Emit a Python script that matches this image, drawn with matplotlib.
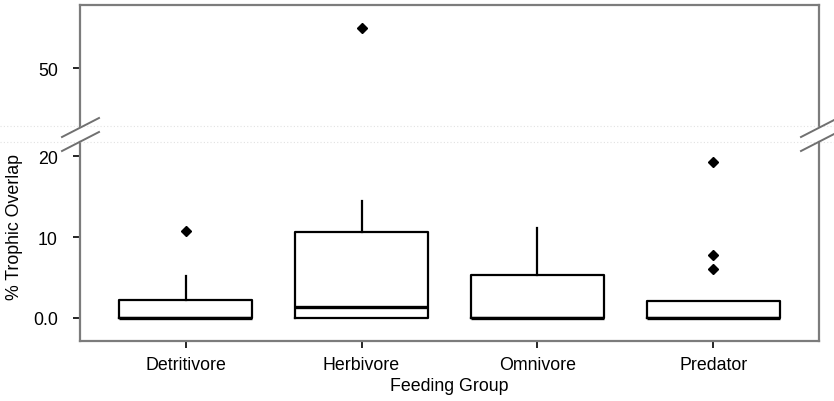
import matplotlib
matplotlib.use('Agg')
import matplotlib.pyplot as plt
from matplotlib.lines import Line2D

plt.rcParams['font.family'] = ['Liberation Sans', 'DejaVu Sans']

# box plot summaries
groups = ['Detritivore', 'Herbivore', 'Omnivore', 'Predator']
q1 = [0.0, 0.0, 0.0, 0.0]
medians = [0.0, 1.36, 0.0, 0.0]
q3 = [2.22, 10.62, 5.31, 2.10]
whisker_lo = [0.0, 0.0, 0.0, 0.0]
whisker_hi = [5.19, 14.44, 11.11, 2.10]
outliers = [[10.74], [55.0], [], [19.26, 7.78, 6.05]]

low_ticks = [0, 10, 20]
low_labels = ['0.0', '10', '20']
high_ticks = [50]
high_labels = ['50']

W, H = 834, 402
fig = plt.figure(figsize=(W / 100, H / 100), dpi=100)

def fx(px):
    return px / W

def fy(py):
    return 1 - py / H

left, right = 80, 819
ax_hi = fig.add_axes([fx(left), fy(127), fx(right - left), fy(6) - fy(127)])
ax_lo = fig.add_axes([fx(left), fy(342), fx(right - left), fy(143) - fy(342)])

stats = []
for i, g in enumerate(groups):
    stats.append(dict(label=g, med=medians[i], q1=q1[i], q3=q3[i],
                      whislo=whisker_lo[i], whishi=whisker_hi[i],
                      fliers=outliers[i]))

spine_col = '#7c7c7c'
fs = 12.8
for ax in (ax_hi, ax_lo):
    ax.bxp(stats, positions=range(1, len(groups) + 1), widths=0.76,
           showcaps=False,
           boxprops=dict(color='black', linewidth=1.6),
           whiskerprops=dict(color='black', linewidth=1.6, linestyle='-'),
           medianprops=dict(color='black', linewidth=2.4),
           flierprops=dict(marker='D', markerfacecolor='black',
                           markeredgecolor='black', markersize=5))
    ax.set_xlim(0.4, 4.6)
    for s in ax.spines.values():
        s.set_color(spine_col)
        s.set_linewidth(1.6)
    ax.tick_params(axis='y', direction='out', length=5, width=1.2,
                   color='black', pad=11, labelsize=fs)

ax_hi.set_ylim(42.84, 57.78)
ax_hi.set_yticks(high_ticks)
ax_hi.set_yticklabels(high_labels)
ax_hi.spines['bottom'].set_visible(False)
ax_hi.set_xticks([])

ax_lo.set_ylim(-2.84, 21.73)
ax_lo.set_yticks(low_ticks)
ax_lo.set_yticklabels(low_labels)
ax_lo.spines['top'].set_visible(False)
ax_lo.set_xticks(range(1, len(groups) + 1))
ax_lo.set_xticklabels(groups)
ax_lo.tick_params(axis='x', direction='out', length=5, width=1.2,
                  color='black', pad=6, labelsize=fs)
ax_lo.set_xlabel('Feeding Group', fontsize=fs, labelpad=3)

fig.text(fx(15), fy(227), '% Trophic Overlap', rotation=90,
         ha='center', va='center', fontsize=fs)

# faint dotted lines bordering the gap
for py in (127, 143):
    fig.add_artist(Line2D([0, 1], [fy(py), fy(py)], color='#e2e2e2',
                          lw=0.8, linestyle=(0, (1, 2))))

# axis break marks
for x0 in (left, right):
    for dy in (0, 14):
        fig.add_artist(Line2D([fx(x0 - 18), fx(x0 + 19)],
                              [fy(138 + dy), fy(119 + dy)],
                              color='#707070', lw=1.4, clip_on=False))

fig.savefig('out.png', dpi=100)
